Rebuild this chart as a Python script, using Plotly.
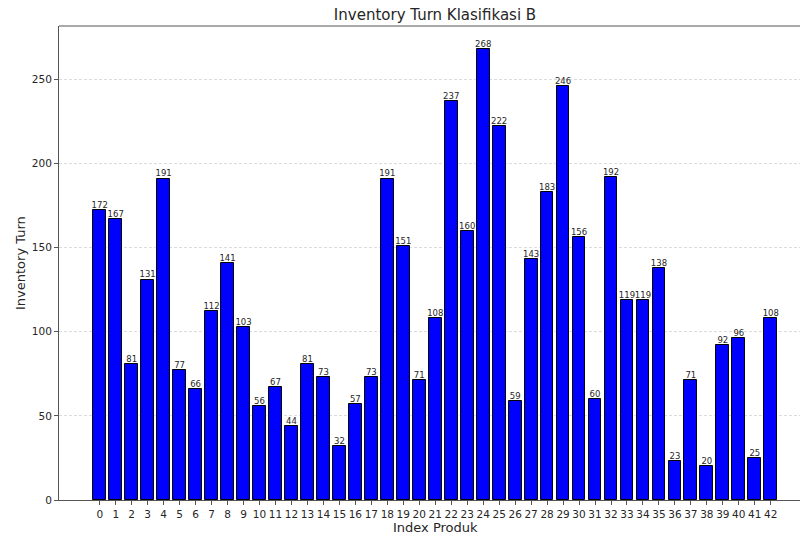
import plotly.graph_objects as go

index_produk = list(range(43))
inventory_turn = [172, 167, 81, 131, 191, 77, 66, 112, 141, 103,
                  56, 67, 44, 81, 73, 32, 57, 73, 191, 151,
                  71, 108, 237, 160, 268, 222, 59, 143, 183, 246,
                  156, 60, 192, 119, 119, 138, 23, 71, 20, 92,
                  96, 25, 108]
tick_labels = [str(i) for i in index_produk]
y_ticks = [0, 50, 100, 150, 200, 250]

W, H = 800, 536
L, R, T, B = 59, 0, 26, 36
PW, PH = W - L - R, H - T - B

fig = go.Figure()
fig.add_trace(go.Bar(
    x=index_produk, y=inventory_turn, width=0.8,
    marker=dict(color="#0000ff", line=dict(color="#000000", width=1)),
    showlegend=False, hoverinfo="x+y",
))
fig.add_trace(go.Scatter(
    x=index_produk, y=inventory_turn, mode="text",
    text=[str(v) for v in inventory_turn], textposition="top center",
    textfont=dict(family="DejaVu Sans", size=8.5, color="#262626"),
    showlegend=False, hoverinfo="skip", cliponaxis=False,
))

fig.update_layout(
    width=W, height=H, autosize=False,
    margin=dict(l=L, r=R, t=T, b=B, pad=0, autoexpand=False),
    plot_bgcolor="white", paper_bgcolor="white",
    font=dict(family="DejaVu Sans", color="#262626"),
    title=dict(text="Inventory Turn Klasifikasi B", x=435 / W, xref="container",
               xanchor="center", y=1 - 15 / H, yref="container", yanchor="middle",
               font=dict(size=15, color="#262626"), automargin=False),
    bargap=0,
    shapes=[dict(type="line", xref="paper", yref="paper", x0=0, x1=1, y0=1, y1=1,
                 line=dict(color="#555555", width=1))],
    annotations=[
        dict(text="Inventory Turn", xref="paper", yref="paper",
             x=-(L - 20) / PW, y=0.5, textangle=-90, showarrow=False,
             xanchor="center", yanchor="middle", font=dict(size=13, color="#262626")),
        dict(text="Index Produk", xref="paper", yref="paper",
             x=(435 - L) / PW, y=-(527 - (H - B)) / PH, showarrow=False,
             xanchor="center", yanchor="middle", font=dict(size=13, color="#262626")),
    ],
)
fig.update_xaxes(
    range=[-2.55, 43.83], tickvals=index_produk, ticktext=tick_labels, automargin=False,
    ticks="outside", ticklen=4, tickcolor="#555555", tickwidth=1,
    showline=True, linecolor="#555555", linewidth=1, showgrid=False, zeroline=False,
    tickfont=dict(size=10.5, color="#262626"),
)
fig.update_yaxes(
    range=[0, 281.6], tickvals=y_ticks, automargin=False,
    ticks="outside", ticklen=4, tickcolor="#555555", tickwidth=1,
    showline=True, linecolor="#555555", linewidth=1,
    showgrid=True, gridcolor="#dcdcdc", griddash="3px,2px", gridwidth=1, zeroline=False,
    tickfont=dict(size=10.5, color="#262626"),
)
fig.write_html("out.html", config={"displayModeBar": False},
               post_script="document.body.style.margin='0';document.body.style.overflow='hidden';")
